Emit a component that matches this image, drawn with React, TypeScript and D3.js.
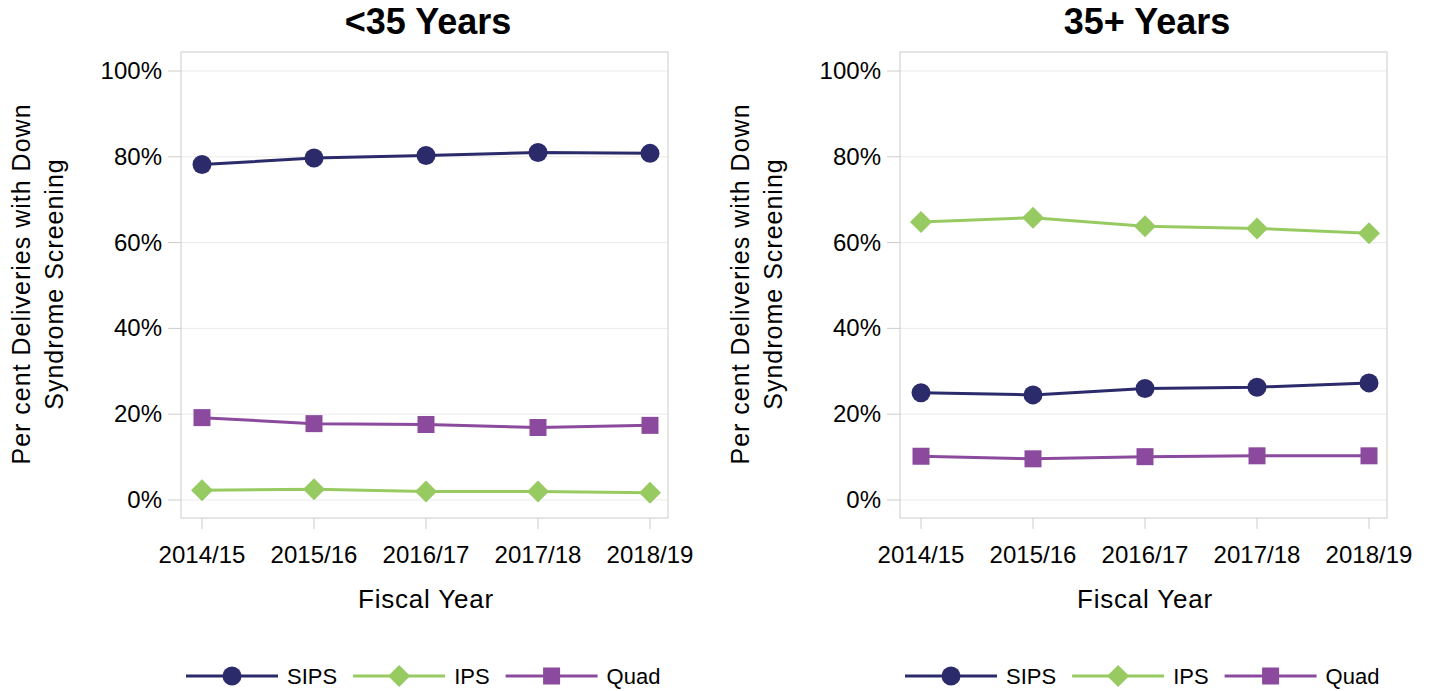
import React from 'react';
import * as d3 from 'd3';

const years = ['2014/15', '2015/16', '2016/17', '2017/18', '2018/19'];
const yTicks = [0, 20, 40, 60, 80, 100];

const seriesNames = ['SIPS', 'IPS', 'Quad'];
const seriesColors = ['#2b2a6b', '#97cb62', '#8b4a9e'];
const seriesShapes = ['circle', 'diamond', 'square'];

const under35Sips = [78.2, 79.7, 80.3, 81.0, 80.8];
const under35Ips = [2.3, 2.5, 2.0, 2.0, 1.7];
const under35Quad = [19.2, 17.8, 17.6, 16.9, 17.4];

const over35Sips = [25.0, 24.5, 26.0, 26.3, 27.3];
const over35Ips = [64.8, 65.8, 63.8, 63.3, 62.2];
const over35Quad = [10.2, 9.6, 10.1, 10.3, 10.3];

const panels = [
  { title: '<35 Years', left: 181, series: [under35Sips, under35Ips, under35Quad] },
  { title: '35+ Years', left: 900, series: [over35Sips, over35Ips, over35Quad] },
];

const FONT = '"Liberation Sans", Arial, sans-serif';

// rough text width for legend layout
let ctx: CanvasRenderingContext2D | null = null;
function textWidth(s: string, size: number) {
  if (!ctx) ctx = document.createElement('canvas').getContext('2d');
  if (!ctx) return s.length * size * 0.6;
  ctx.font = `${size}px "Liberation Sans", Arial, sans-serif`;
  return ctx.measureText(s).width;
}

function Marker({ shape, x, y, color }: { shape: string; x: number; y: number; color: string }) {
  if (shape === 'circle') return <circle cx={x} cy={y} r={9.5} fill={color} />;
  if (shape === 'diamond')
    return <path d={`M${x},${y - 11}L${x + 11},${y}L${x},${y + 11}L${x - 11},${y}Z`} fill={color} />;
  return <rect x={x - 8.5} y={y - 8.5} width={17} height={17} fill={color} />;
}

function Panel({ title, left, series }: { title: string; left: number; series: number[][] }) {
  const width = 487;
  const top = 52;
  const bottom = 518;
  const x = d3.scalePoint<string>().domain(years).range([left + 21, left + width - 18]);
  const y = d3.scaleLinear().domain([0, 100]).range([500, 71]);
  const line = d3
    .line<number>()
    .x((_, i) => x(years[i]) as number)
    .y((d) => y(d));
  const cx = ((x(years[0]) as number) + (x(years[years.length - 1]) as number)) / 2;

  const legendSize = 22;
  let lx = left + 5;
  const legendItems = seriesNames.map((name, si) => {
    const item = { name, si, x: lx };
    lx += 92 + 9 + textWidth(name, legendSize) + 16;
    return item;
  });

  return (
    <g fontFamily={FONT}>
      <text x={cx + 2} y={34} textAnchor="middle" fontSize={36} fontWeight="bold" fill="#000">
        {title}
      </text>
      {yTicks.map((t) => (
        <g key={t}>
          <line x1={left} x2={left + width} y1={y(t)} y2={y(t)} stroke="#ebebeb" strokeWidth={1} />
          <line x1={left - 13} x2={left} y1={y(t)} y2={y(t)} stroke="#cccccc" strokeWidth={1} />
          <text x={left - 19} y={y(t) + 8} textAnchor="end" fontSize={24} fill="#000">
            {t}%
          </text>
        </g>
      ))}
      <rect x={left} y={top} width={width} height={bottom - top} fill="none" stroke="#cccccc" strokeWidth={1} />
      {years.map((yr) => (
        <g key={yr}>
          <line x1={x(yr)} x2={x(yr)} y1={bottom} y2={bottom + 11} stroke="#cccccc" strokeWidth={1} />
          <text x={x(yr)} y={563} textAnchor="middle" fontSize={24} fill="#000">
            {yr}
          </text>
        </g>
      ))}
      <text x={cx} y={608} textAnchor="middle" fontSize={26} letterSpacing={0.8} fill="#000">
        Fiscal Year
      </text>
      <text
        transform={`translate(${left - 151},284) rotate(-90)`}
        textAnchor="middle"
        fontSize={25}
        letterSpacing={1}
        fill="#000"
      >
        Per cent Deliveries with Down
      </text>
      <text
        transform={`translate(${left - 118},284) rotate(-90)`}
        textAnchor="middle"
        fontSize={25}
        letterSpacing={1}
        fill="#000"
      >
        Syndrome Screening
      </text>
      {series.map((vals, si) => (
        <g key={si}>
          <path d={line(vals) || ''} fill="none" stroke={seriesColors[si]} strokeWidth={3} />
          {vals.map((v, i) => (
            <Marker key={i} shape={seriesShapes[si]} x={x(years[i]) as number} y={y(v)} color={seriesColors[si]} />
          ))}
        </g>
      ))}
      {legendItems.map(({ name, si, x: ix }) => (
        <g key={name}>
          <line x1={ix} x2={ix + 92} y1={676} y2={676} stroke={seriesColors[si]} strokeWidth={3} />
          <Marker shape={seriesShapes[si]} x={ix + 46} y={676} color={seriesColors[si]} />
          <text x={ix + 101} y={684} fontSize={legendSize} fill="#000">
            {name}
          </text>
        </g>
      ))}
    </g>
  );
}

export default function App() {
  return (
    <svg width={1429} height={691} style={{ position: 'absolute', left: 0, top: 0, background: '#fff' }}>
      {panels.map((p) => (
        <Panel key={p.title} title={p.title} left={p.left} series={p.series} />
      ))}
    </svg>
  );
}
